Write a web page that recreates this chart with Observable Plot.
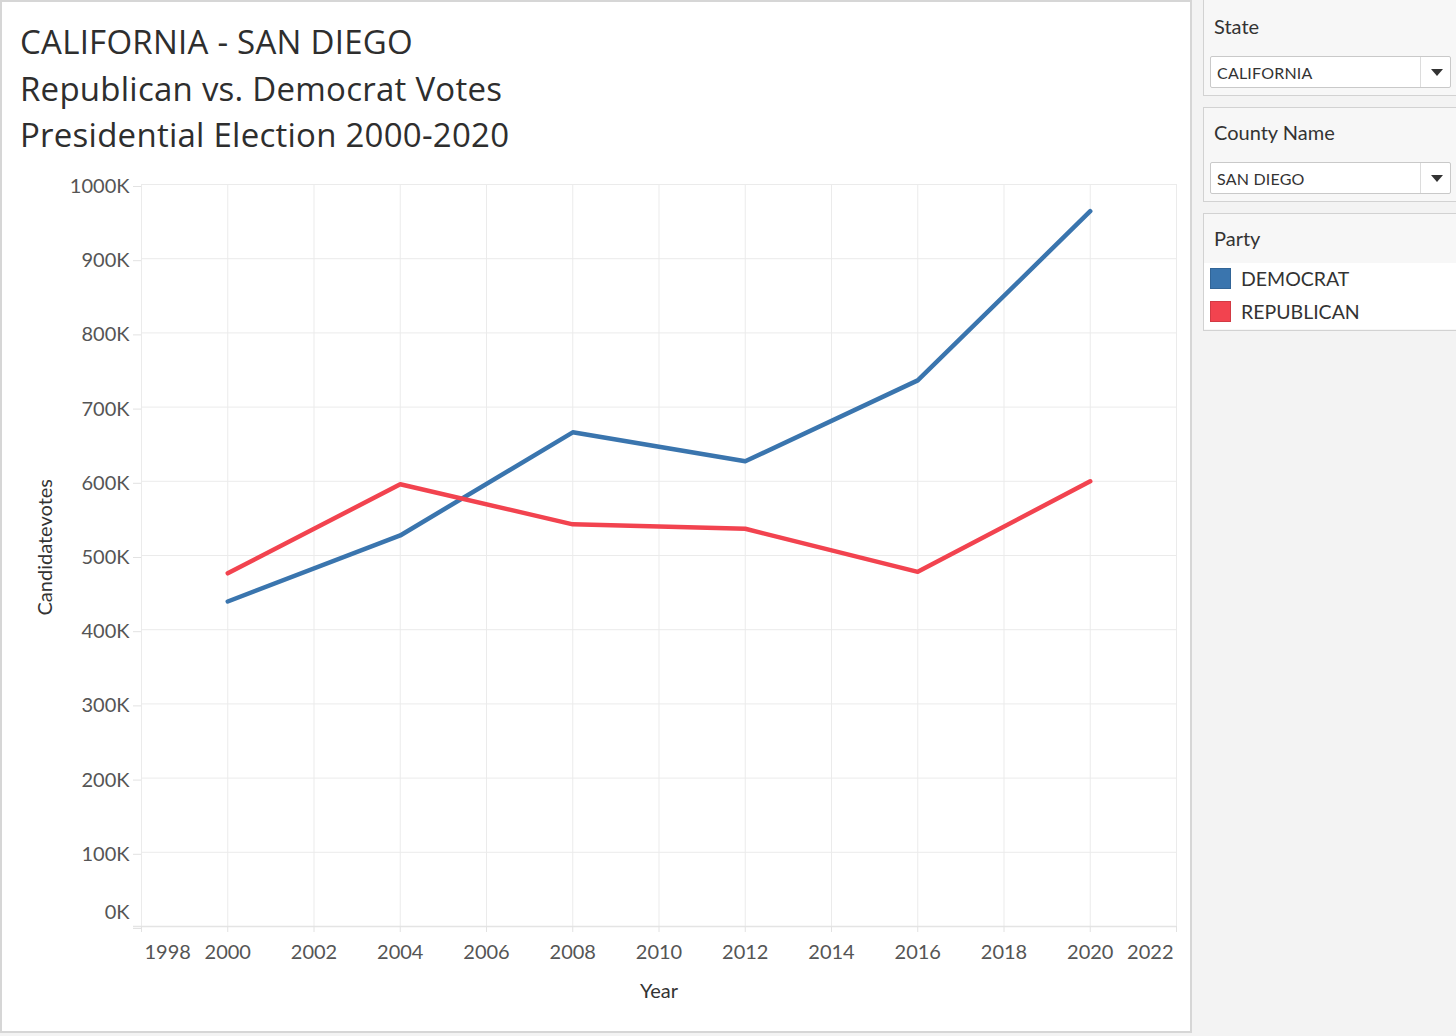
<!DOCTYPE html>
<html>
<head>
<meta charset="utf-8">
<script src="https://cdn.jsdelivr.net/npm/d3@7"></script>
<script src="https://cdn.jsdelivr.net/npm/@observablehq/plot@0.6"></script>
<style>
  html, body { margin: 0; padding: 0; }
  body { width: 1456px; height: 1036px; background: #f3f3f3; position: relative; overflow: hidden; font-family: Lato, "Noto Sans", sans-serif; color: #333; }
  #panel { position: absolute; left: 0; top: 0; width: 1188px; height: 1029px; background: #fff; border: 2px solid #d6d6d6; }
  #title { position: absolute; left: 20px; top: 19px; font-family: "Open Sans", "Noto Sans", sans-serif; font-size: 33px; letter-spacing: 0.25px; line-height: 46.5px; color: #2e2e2e; white-space: nowrap; }
  #chart { position: absolute; left: 0; top: 160px; }
  .card { position: absolute; left: 1203px; width: 262px; background: #f7f7f7; border: 1px solid #d2d2d2; }
  .card .hdr { position: absolute; left: 10px; font-size: 20px; color: #333; }
  .dd { position: absolute; left: 6px; width: 239px; height: 30px; background: #fff; border: 1px solid #c9c9c9; border-radius: 2px; }
  .dd .val { position: absolute; left: 6px; top: 6px; font-size: 16px; color: #333; letter-spacing: 0.2px; }
  .dd .div { position: absolute; left: 209px; top: 0; width: 1px; height: 30px; background: #dcdcdc; }
  .dd .arr { position: absolute; left: 220px; top: 12px; width: 0; height: 0; border-left: 6px solid transparent; border-right: 6px solid transparent; border-top: 7px solid #333; }
  .leg { position: absolute; left: 0; width: 262px; height: 33px; background: #fff; }
  .leg .sw { position: absolute; left: 6px; top: 5px; width: 21px; height: 21px; }
  .leg .lt { position: absolute; left: 37px; top: 4px; font-size: 19.5px; color: #333; }
</style>
</head>
<body>
<div id="panel"></div>
<div id="title"></div>
<div id="chart"></div>
<div id="side"></div>
<script>
// ---- data ----
const titleLines = ["CALIFORNIA - SAN DIEGO", "Republican vs. Democrat Votes", "Presidential Election 2000-2020"];
const years = [2000, 2004, 2008, 2012, 2016, 2020];
const democratVotes = [438000, 527000, 666000, 627000, 736000, 964000];
const republicanVotes = [476000, 596000, 542000, 536000, 478000, 600000];
const parties = ["DEMOCRAT", "REPUBLICAN"];
const partyColors = ["#3a75ae", "#f2434f"];
const xTicks = [1998, 2000, 2002, 2004, 2006, 2008, 2010, 2012, 2014, 2016, 2018, 2020, 2022];
const yTicks = [0, 100000, 200000, 300000, 400000, 500000, 600000, 700000, 800000, 900000, 1000000];
const filters = [
  {name: "State", value: "CALIFORNIA"},
  {name: "County Name", value: "SAN DIEGO"}
];
const xLabel = "Year";
const yLabel = "Candidatevotes";

// ---- title ----
document.getElementById("title").innerHTML = titleLines.map(t => `<div>${t}</div>`).join("");

// ---- table ----
const rows = [];
years.forEach((y, i) => {
  rows.push({year: y, party: parties[0], votes: democratVotes[i]});
  rows.push({year: y, party: parties[1], votes: republicanVotes[i]});
});

const fmtK = d => `${d / 1000}K`;
const tickColor = "#555";
const gridColor = "#ebebeb";
const fs = 20;

const chart = Plot.plot({
  width: 1190,
  height: 870,
  marginLeft: 141,
  marginRight: 14,
  marginTop: 24,
  marginBottom: 104,
  style: {fontFamily: "Lato, 'Noto Sans', sans-serif", background: "transparent", overflow: "visible"},
  x: {domain: [1998, 2022]},
  y: {domain: [0, 1000000]},
  color: {domain: parties, range: partyColors},
  marks: [
    Plot.gridX(xTicks, {stroke: gridColor, strokeOpacity: 1}),
    Plot.gridY(yTicks, {stroke: gridColor, strokeOpacity: 1}),
    Plot.ruleY([0], {stroke: "#e4e4e4", strokeWidth: 1.5, insetLeft: -8}),
    Plot.axisX(xTicks, {tickSize: 6, stroke: "#e2e2e2", tickFormat: () => "", label: null}),
    Plot.axisY(yTicks, {tickSize: 8, tickPadding: 4, stroke: "#e2e2e2", color: tickColor, fill: tickColor, fontSize: fs,
      tickFormat: d => d === 0 ? "" : fmtK(d), label: null, dy: 2}),
    Plot.text([yTicks[0]], {x: 1998, y: d => d, text: d => fmtK(d), textAnchor: "end", dx: -12, dy: -14, fill: tickColor, fontSize: fs}),
    Plot.text(xTicks.slice(1, -1), {x: d => d, frameAnchor: "bottom", text: d => String(d), dy: 32, fill: tickColor, fontSize: fs}),
    Plot.text([xTicks[0]], {x: d => d, frameAnchor: "bottom", text: d => String(d), dy: 32, dx: 3, textAnchor: "start", fill: tickColor, fontSize: fs}),
    Plot.text([xTicks[xTicks.length - 1]], {x: d => d, frameAnchor: "bottom", text: d => String(d), dy: 32, dx: -3, textAnchor: "end", fill: tickColor, fontSize: fs}),
    Plot.text([xLabel], {frameAnchor: "bottom", text: d => d, dy: 71, fill: "#333", fontSize: fs}),
    Plot.text([yLabel], {frameAnchor: "left", text: d => d, rotate: -90, dx: -96, dy: 60, fill: "#333", fontSize: fs}),
    Plot.line(rows, {x: "year", y: "votes", z: "party", stroke: "party", strokeWidth: 4.5, strokeLinecap: "round", strokeLinejoin: "round"})
  ]
});
document.getElementById("chart").appendChild(chart);

// ---- side panel ----
const side = document.getElementById("side");
const cardTops = [-2, 107];
const ddTops = [57, 54];
filters.forEach((f, i) => {
  const c = document.createElement("div");
  c.className = "card";
  c.style.top = cardTops[i] + "px";
  c.style.height = i === 0 ? "96px" : "93px";
  c.innerHTML = `<div class="hdr" style="top:${i === 0 ? 15 : 12}px">${f.name}</div>
    <div class="dd" style="top:${ddTops[i]}px"><div class="val">${f.value}</div><div class="div"></div><div class="arr"></div></div>`;
  side.appendChild(c);
});
const lc = document.createElement("div");
lc.className = "card";
lc.style.top = "213px";
lc.style.height = "116px";
lc.innerHTML = `<div class="hdr" style="top:12px">Party</div>` +
  parties.map((p, i) => `<div class="leg" style="top:${49 + i * 33}px"><div class="sw" style="background:${partyColors[i]};outline:1px solid ${d3.color(partyColors[i]).darker(0.4)};outline-offset:-1px"></div><div class="lt">${p}</div></div>`).join("");
side.appendChild(lc);
</script>
</body>
</html>
